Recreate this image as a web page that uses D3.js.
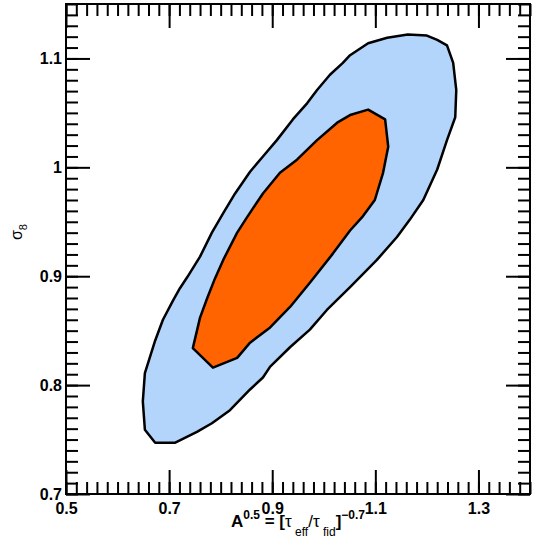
<!DOCTYPE html>
<html>
<head>
<meta charset="utf-8">
<script src="https://cdn.jsdelivr.net/npm/d3@7"></script>
<style>
  body { margin: 0; background: #fff; }
  svg { display: block; font-family: "Liberation Sans", Arial, Helvetica, sans-serif; }
  .axis text { font-size: 16px; font-weight: bold; fill: #000; }
  .axis line { stroke: #000; stroke-width: 2px; }
  .axis path { display: none; }
</style>
</head>
<body>
<svg width="536" height="545"></svg>
<script>
// 95% contour (outer, light blue), A^0.5 vs sigma_8
const outerA = [0.673, 0.711, 0.754, 0.783, 0.818, 0.857, 0.882, 0.896, 0.935, 0.973, 1.006, 1.051, 1.103, 1.142, 1.167, 1.193, 1.220, 1.239, 1.255, 1.257, 1.251, 1.239, 1.220, 1.200, 1.163, 1.123, 1.086, 1.051, 1.037, 1.012, 0.987, 0.968, 0.940, 0.909, 0.882, 0.857, 0.828, 0.805, 0.783, 0.760, 0.735, 0.721, 0.708, 0.688, 0.673, 0.653, 0.649, 0.653];
const outerS = [0.747, 0.747, 0.757, 0.765, 0.777, 0.796, 0.807, 0.817, 0.835, 0.851, 0.869, 0.890, 0.915, 0.936, 0.952, 0.970, 0.998, 1.025, 1.046, 1.071, 1.096, 1.112, 1.117, 1.121, 1.122, 1.119, 1.114, 1.103, 1.096, 1.085, 1.071, 1.059, 1.044, 1.025, 1.010, 0.996, 0.976, 0.958, 0.940, 0.918, 0.899, 0.889, 0.878, 0.860, 0.841, 0.811, 0.785, 0.759];

// 68% contour (inner, orange)
const innerA = [0.746, 0.760, 0.774, 0.789, 0.805, 0.832, 0.851, 0.882, 0.915, 0.948, 0.987, 1.026, 1.051, 1.086, 1.119, 1.125, 1.115, 1.099, 1.074, 1.051, 1.018, 0.973, 0.935, 0.896, 0.857, 0.832, 0.785];
const innerS = [0.834, 0.862, 0.880, 0.898, 0.915, 0.940, 0.954, 0.976, 0.995, 1.007, 1.025, 1.041, 1.048, 1.053, 1.044, 1.019, 0.995, 0.970, 0.954, 0.942, 0.921, 0.894, 0.872, 0.853, 0.839, 0.825, 0.816];

const xMajor = [0.5, 0.7, 0.9, 1.1, 1.3];
const yMajor = [0.7, 0.8, 0.9, 1.0, 1.1];
const xLabels = ["0.5", "0.7", "0.9", "1.1", "1.3"];
const yLabels = ["0.7", "0.8", "0.9", "1", "1.1"];

const svg = d3.select("svg");
const m = { left: 66, right: 530, top: 4, bottom: 494 };

const x = d3.scaleLinear().domain([0.5, 1.4]).range([m.left, m.right]);
const y = d3.scaleLinear().domain([0.7, 1.15]).range([m.bottom, m.top]);

const xMinor = d3.range(0, 46).map(i => 0.5 + i * 0.02);
const yMinor = d3.range(0, 46).map(i => 0.7 + i * 0.01);

const line = d3.line()
  .x(d => x(d[0]))
  .y(d => y(d[1]))
  .curve(d3.curveLinearClosed);

const outer = outerA.map((a, i) => [a, outerS[i]]);
const inner = innerA.map((a, i) => [a, innerS[i]]);

svg.append("path")
  .attr("d", line(outer))
  .attr("fill", "#b3d5fb")
  .attr("stroke", "#000")
  .attr("stroke-width", 2.5)
  .attr("stroke-linejoin", "round");

svg.append("path")
  .attr("d", line(inner))
  .attr("fill", "#ff6400")
  .attr("stroke", "#000")
  .attr("stroke-width", 2.5)
  .attr("stroke-linejoin", "round");

// minor ticks on all four sides
svg.append("g").attr("class", "axis").attr("transform", `translate(0,${m.bottom})`)
  .call(d3.axisBottom(x).tickValues(xMinor).tickSize(-12).tickFormat(""));
svg.append("g").attr("class", "axis").attr("transform", `translate(0,${m.top})`)
  .call(d3.axisTop(x).tickValues(xMinor).tickSize(-12).tickFormat(""));
svg.append("g").attr("class", "axis").attr("transform", `translate(${m.left},0)`)
  .call(d3.axisLeft(y).tickValues(yMinor).tickSize(-12).tickFormat(""));
svg.append("g").attr("class", "axis").attr("transform", `translate(${m.right},0)`)
  .call(d3.axisRight(y).tickValues(yMinor).tickSize(-12).tickFormat(""));

// major ticks + labels
svg.append("g").attr("class", "axis").attr("transform", `translate(0,${m.bottom})`)
  .call(d3.axisBottom(x).tickValues(xMajor).tickSize(-24).tickPadding(9)
    .tickFormat((d, i) => xLabels[i]));
svg.append("g").attr("class", "axis").attr("transform", `translate(0,${m.top})`)
  .call(d3.axisTop(x).tickValues(xMajor).tickSize(-24).tickFormat(""));
svg.append("g").attr("class", "axis").attr("transform", `translate(${m.left},0)`)
  .call(d3.axisLeft(y).tickValues(yMajor).tickSize(-24).tickPadding(4)
    .tickFormat((d, i) => yLabels[i]));
svg.append("g").attr("class", "axis").attr("transform", `translate(${m.right},0)`)
  .call(d3.axisRight(y).tickValues(yMajor).tickSize(-24).tickFormat(""));

// frame
svg.append("rect")
  .attr("x", m.left).attr("y", m.top)
  .attr("width", m.right - m.left).attr("height", m.bottom - m.top)
  .attr("fill", "none").attr("stroke", "#000").attr("stroke-width", 2);

// x title: A^0.5 = [tau_eff / tau_fid]^-0.7
const xt = svg.append("text")
  .attr("x", 298)
  .attr("y", 527)
  .attr("text-anchor", "middle")
  .style("font-size", "17px")
  .style("font-weight", "bold");
xt.append("tspan").text("A");
xt.append("tspan").attr("dy", -8).style("font-size", "12px").text("0.5");
xt.append("tspan").attr("dy", 8).text(" = [");
xt.append("tspan").style("font-weight", "normal").text("τ");
xt.append("tspan").attr("dy", 9).style("font-size", "12px").style("font-weight", "normal").text(" eff");
xt.append("tspan").attr("dy", -9).style("font-weight", "normal").text("/τ");
xt.append("tspan").attr("dy", 9).style("font-size", "12px").style("font-weight", "normal").text(" fid");
xt.append("tspan").attr("dy", -9).text("]");
xt.append("tspan").attr("dy", -8).style("font-size", "12px").text("−0.7");

// y title: sigma_8
const yt = svg.append("text")
  .attr("transform", "translate(22,232) rotate(-90)")
  .attr("text-anchor", "middle")
  .style("font-size", "16px");
yt.append("tspan").text("σ");
yt.append("tspan").attr("dy", 5).style("font-size", "11px").text("8");
</script>
</body>
</html>
